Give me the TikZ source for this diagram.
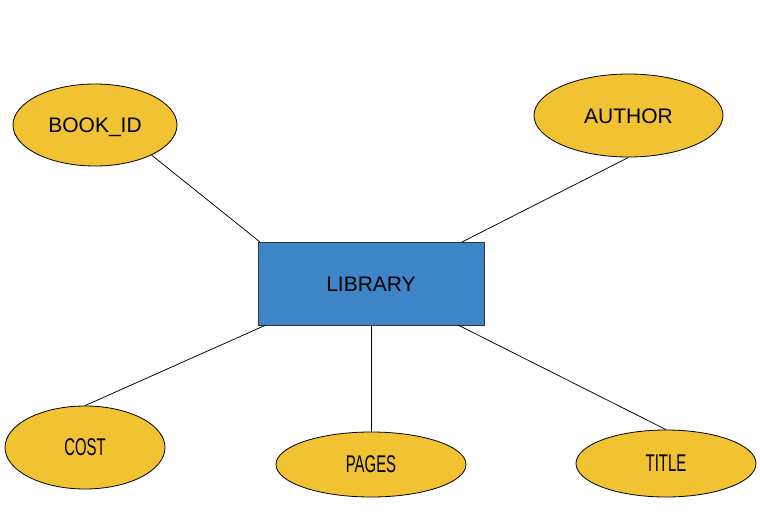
\documentclass[tikz,border=0pt]{standalone}
\usepackage{fontspec}
\setmainfont{Liberation Sans}
\usetikzlibrary{shapes.geometric}
\definecolor{attrfill}{HTML}{F1C232}
\definecolor{entfill}{HTML}{3D85C6}
\begin{document}
\begin{tikzpicture}[x=1pt,y=-1pt,
  attr/.style={ellipse,draw=black,line width=0.8pt,fill=attrfill,inner sep=0pt,
    font=\fontsize{21}{24}\selectfont,text height=15pt,text depth=0pt},
  attrs/.style={attr,text height=16.7pt},
  ent/.style={rectangle,draw=black!80,line width=0.9pt,fill=entfill,inner sep=0pt,
    font=\fontsize{21}{24}\selectfont,text height=15pt,text depth=0pt},
  link/.style={draw=black,line width=0.75pt}]
\useasboundingbox (0,0) rectangle (760,527);
\node[ent,minimum width=226pt,minimum height=83pt] (lib) at (371,283.5) {LIBRARY};
\node[attr,minimum width=164pt,minimum height=82pt] (book) at (95,125) {BOOK\_ID};
\node[attr,minimum width=189pt,minimum height=83pt] (author) at (628.5,115.5) {AUTHOR};
\node[attrs,minimum width=160pt,minimum height=83pt] (cost) at (85,447.5) {\scalebox{0.71}[1.15]{COST}};
\node[attrs,minimum width=190pt,minimum height=65pt] (pages) at (371,464.5) {\scalebox{0.71}[1.15]{PAGES}};
\node[attrs,minimum width=180pt,minimum height=67pt] (title) at (666,463.5) {\scalebox{0.71}[1.15]{TITLE}};
\coordinate (lbook) at (260,242);
\coordinate (lauthor) at (462,242);
\coordinate (lcost) at (266,325);
\coordinate (lpages) at (371,325);
\coordinate (ltitle) at (458,325);
\draw[link] (book.-28) -- (lbook);
\draw[link] (author.south) -- (lauthor);
\draw[link] (cost.north) -- (lcost);
\draw[link] (pages.north) -- (lpages);
\draw[link] (title.north) -- (ltitle);
\end{tikzpicture}
\end{document}
